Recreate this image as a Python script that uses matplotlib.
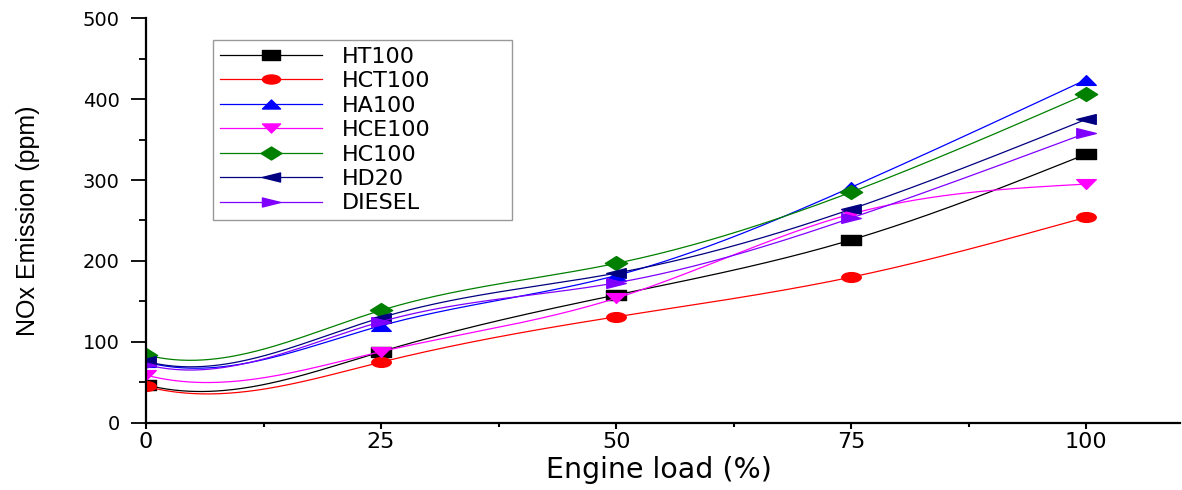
import numpy as np
import matplotlib.pyplot as plt
from matplotlib.path import Path
from matplotlib.transforms import Affine2D
from matplotlib.ticker import MultipleLocator

plt.rcParams['font.family'] = ['DejaVu Sans']

load = [0, 25, 50, 75, 100]
ht100 = [47, 88, 158, 226, 332]
hct100 = [45, 75, 131, 180, 254]
ha100 = [75, 120, 182, 291, 424]
hce100 = [59, 88, 154, 258, 295]
hc100 = [84, 139, 197, 285, 406]
hd20 = [76, 130, 185, 264, 375]
diesel = [72, 125, 173, 253, 358]

names = ['HT100', 'HCT100', 'HA100', 'HCE100', 'HC100', 'HD20', 'DIESEL']
series = [ht100, hct100, ha100, hce100, hc100, hd20, diesel]
colors = ['black', 'red', 'blue', 'magenta', 'green', 'navy', '#8000ff']

# the source image is stretched sideways, so the markers are wide and flat
flat = Affine2D().scale(1, 0.5)
poly = lambda pts: flat.transform_path(Path(pts + [pts[0]], closed=True))
markers = [
    poly([(-1, -1), (1, -1), (1, 1), (-1, 1)]),
    flat.transform_path(Path.unit_circle()),
    poly([(0, 1), (-1, -1), (1, -1)]),
    poly([(0, -1), (-1, 1), (1, 1)]),
    poly([(0, 1.25), (1, 0), (0, -1.25), (-1, 0)]),
    poly([(-1, 0), (1, 1), (1, -1)]),
    poly([(1, 0), (-1, 1), (-1, -1)]),
]
sizes = [14, 14, 14, 14, 16, 14, 14]


def spline(x, y, xs, s0=-3.0):
    # cubic spline, slope s0 at the first point, natural at the last one
    x = np.asarray(x, float)
    y = np.asarray(y, float)
    n = len(x)
    h = np.diff(x)
    A = np.zeros((n, n))
    b = np.zeros(n)
    A[0, 0] = 2 * h[0]
    A[0, 1] = h[0]
    b[0] = 6 * ((y[1] - y[0]) / h[0] - s0)
    A[-1, -1] = 1
    for i in range(1, n - 1):
        A[i, i - 1] = h[i - 1]
        A[i, i] = 2 * (h[i - 1] + h[i])
        A[i, i + 1] = h[i]
        b[i] = 6 * ((y[i + 1] - y[i]) / h[i] - (y[i] - y[i - 1]) / h[i - 1])
    m = np.linalg.solve(A, b)
    out = np.empty_like(xs)
    for k, t in enumerate(xs):
        i = min(max(np.searchsorted(x, t, side='right') - 1, 0), n - 2)
        a = x[i + 1] - t
        c = t - x[i]
        out[k] = (m[i] * a**3 + m[i + 1] * c**3) / (6 * h[i]) \
            + (y[i] / h[i] - m[i] * h[i] / 6) * a \
            + (y[i + 1] / h[i] - m[i + 1] * h[i] / 6) * c
    return out


fig = plt.figure(figsize=(11.82, 4.9), dpi=100)
ax = fig.add_axes([0.1235, 0.137, 0.875, 0.826])

xs = np.linspace(0, 100, 400)
for name, ys, c, mk, ms in zip(names, series, colors, markers, sizes):
    ax.plot(xs, spline(load, ys, xs), color=c, lw=0.9)
    ax.plot(load, ys, linestyle='none', marker=mk, color=c, markersize=ms)
    ax.plot([], [], color=c, lw=0.9, marker=mk, markersize=ms - 1, label=name)

ax.set_xlim(0, 110)
ax.set_ylim(0, 500)
ax.xaxis.set_major_locator(MultipleLocator(25))
ax.xaxis.set_minor_locator(MultipleLocator(12.5))
ax.yaxis.set_major_locator(MultipleLocator(100))
ax.yaxis.set_minor_locator(MultipleLocator(50))
ax.set_xticks([0, 25, 50, 75, 100])
ax.tick_params(axis='x', which='major', direction='out', length=4, width=1.5,
               labelsize=16, pad=2.5)
ax.tick_params(axis='x', which='minor', direction='out', length=3, width=1.5)
ax.tick_params(axis='y', which='major', direction='out', length=11, width=1.3,
               labelsize=14, pad=8)
ax.tick_params(axis='y', which='minor', direction='out', length=5, width=1.3)
ax.spines['top'].set_visible(False)
ax.spines['right'].set_visible(False)
ax.spines['left'].set_linewidth(1.6)
ax.spines['bottom'].set_linewidth(1.6)

ax.set_xlabel('Engine load (%)', fontsize=20.5)
ax.xaxis.set_label_coords(0.496, -0.083)
ax.set_ylabel('NOx Emission (ppm)', fontsize=18, family='Liberation Sans')
ax.yaxis.set_label_coords(-0.1025, 0.5)

leg = ax.legend(loc='upper left', bbox_to_anchor=(0.0648, 0.0, 0.289, 0.9457),
                mode='expand', fontsize=16, frameon=True, fancybox=False,
                edgecolor='gray', handlelength=4.6, handletextpad=0.9,
                labelspacing=0.2, borderpad=0.3, borderaxespad=0)
leg.get_frame().set_linewidth(1.0)

fig.savefig('out.png', dpi=100)
